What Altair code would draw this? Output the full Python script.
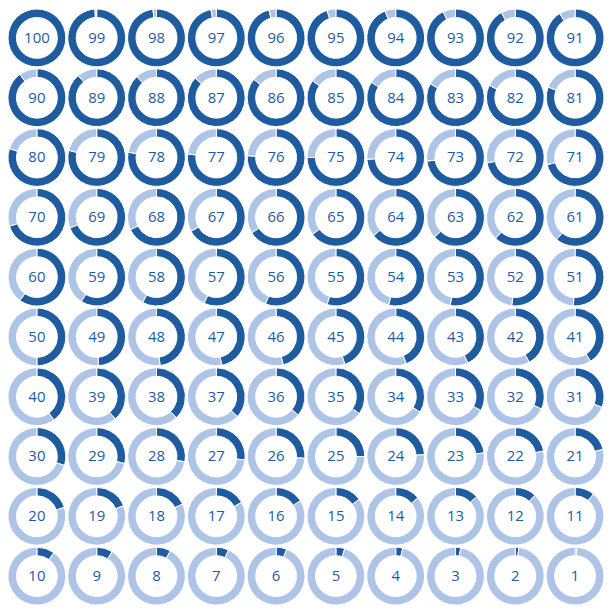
import altair as alt
import pandas as pd

values = list(range(100, 0, -1))
n_cols = 10
dark = "#1f5b9f"
light = "#aec4e6"

rows = []
texts = []
for i, v in enumerate(values):
    r, c = divmod(i, n_cols)
    rows.append({"col": c, "row": r, "start": 0, "end": v, "part": "value"})
    if v < 100:
        rows.append({"col": c, "row": r, "start": v, "end": 100, "part": "rest"})
    texts.append({"col": c, "row": r, "label": str(v)})

arcs_df = pd.DataFrame(rows)
text_df = pd.DataFrame(texts)

xs = alt.Scale(domain=[0, 9], range=[29, 569], nice=False, zero=False)
ys = alt.Scale(domain=[0, 9], range=[29, 569], nice=False, zero=False)

arcs = alt.Chart(arcs_df).mark_arc(outerRadius=29, innerRadius=20.5, stroke="white", strokeWidth=1).encode(
    x=alt.X("col:Q", scale=xs, axis=None),
    y=alt.Y("row:Q", scale=ys, axis=None),
    theta=alt.Theta("start:Q", scale=alt.Scale(domain=[0, 100], range=[0, 6.283185307179586])),
    theta2="end:Q",
    color=alt.Color("part:N", scale=alt.Scale(domain=["value", "rest"], range=[dark, light]), legend=None),
)

labels = alt.Chart(text_df).mark_text(font="Open Sans", fontSize=15, color=dark).encode(
    x=alt.X("col:Q", scale=xs, axis=None),
    y=alt.Y("row:Q", scale=ys, axis=None),
    text="label:N",
)

chart = alt.layer(arcs, labels).properties(
    width=598, height=598, padding=0, autosize=alt.AutoSizeParams(type="none")
).configure_view(stroke=None)

chart.save("out.html", embed_options={"renderer": "svg", "actions": False})
